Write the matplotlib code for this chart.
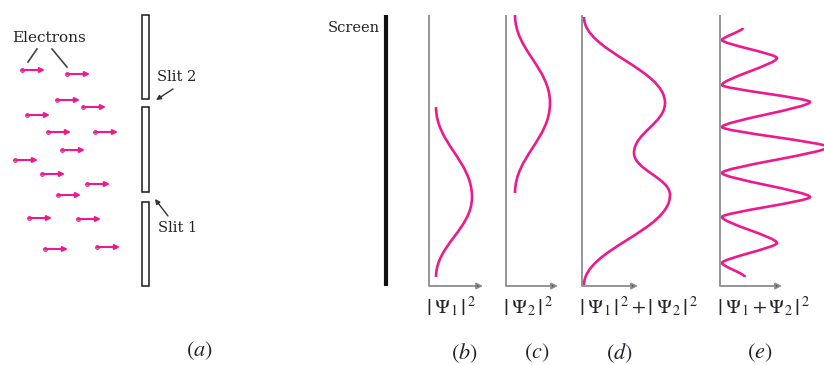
import matplotlib
matplotlib.use('Agg')
import matplotlib.pyplot as plt
from matplotlib.path import Path
from matplotlib.patches import PathPatch, Rectangle

plt.rcParams['font.family'] = ['DejaVu Serif']
plt.rcParams['mathtext.fontset'] = 'stix'

PINK = '#ec1a8c'
TEXT = '#23232f'
AXGRAY = '#8c8c8c'

# electrons in panel (a): tail x and height (pixel units of the drawing)
elec_x = [22, 67, 57, 83, 27, 48, 95, 62, 15, 42, 87, 58, 29, 78, 45, 97]
elec_y = [70, 74, 100, 107, 115, 132, 132, 150, 160, 174, 184, 195, 218, 219, 249, 247]

# slit wall segments (top, bottom)
wall_top = [15, 107, 202]
wall_bot = [99, 192, 286]

# probability curves: key points (height on screen, intensity)
b_height = [179, 89, 9]
b_int = [7, 43, 7]
c_height = [271, 183, 93]
c_int = [9, 44, 9]
d_height = [269, 183, 133, 91, 1]
d_int = [2, 83, 52, 88, 2]
e_height = [258, 246, 228, 201, 184, 159, 139, 113, 89, 69, 43, 23, 9]
e_int = [23, 2, 57, 2, 90, 2, 108, 2, 90, 2, 57, 2, 25]

axis_labels = [r'$\left|\;\Psi_1\,\right|^{\,2}$', r'$\left|\;\Psi_2\,\right|^{\,2}$',
               r'$\left|\;\Psi_1\,\right|^{\,2}+\left|\;\Psi_2\,\right|^{\,2}$',
               r'$\left|\;\Psi_1+\Psi_2\,\right|^{\,2}$']
panel_tags = ['a', 'b', 'c', 'd', 'e']

W, H = 824, 365
fig = plt.figure(figsize=(W / 100, H / 100), dpi=100)

# overlay in pixel units for panel (a), screen and captions
ax0 = fig.add_axes([0, 0, 1, 1])
ax0.set_xlim(0, W)
ax0.set_ylim(H, 0)
ax0.axis('off')

for t, b in zip(wall_top, wall_bot):
    ax0.add_patch(Rectangle((142, t), 7, b - t, facecolor='white',
                            edgecolor='#1a1a1a', lw=1.1))

for x, y in zip(elec_x, elec_y):
    ax0.annotate('', xy=(x + 23, y), xytext=(x, y),
                 arrowprops=dict(arrowstyle='-|>', color=PINK, lw=1.5,
                                 mutation_scale=7, shrinkA=0, shrinkB=0))
    ax0.plot(x, y, 'o', ms=2.8, mfc='#f27ab6', mec=PINK, mew=0.6)

ax0.text(12, 38, 'Electrons', fontsize=11, color=TEXT, va='center')
ax0.plot([37, 28], [49, 62], color='#444444', lw=1.2)
ax0.plot([52, 67], [49, 67], color='#444444', lw=1.2)

ax0.text(157, 77, 'Slit 2', fontsize=10.5, color=TEXT, va='center')
ax0.annotate('', xy=(156, 100), xytext=(173, 89),
             arrowprops=dict(arrowstyle='-|>', color='#333333', lw=1.0,
                             mutation_scale=7, shrinkA=0, shrinkB=0))
ax0.text(158, 228, 'Slit 1', fontsize=10.5, color=TEXT, va='center')
ax0.annotate('', xy=(155, 199), xytext=(168, 216),
             arrowprops=dict(arrowstyle='-|>', color='#333333', lw=1.0,
                             mutation_scale=7, shrinkA=0, shrinkB=0))

# screen
ax0.plot([386, 386], [15, 286], color='#111111', lw=3, solid_capstyle='butt')
ax0.text(380, 28, 'Screen', fontsize=10.5, color=TEXT, ha='right', va='center')


def smooth_path(xs, ys, k=0.4):
    verts = [(xs[0], ys[0])]
    codes = [Path.MOVETO]
    for i in range(len(xs) - 1):
        dy = ys[i + 1] - ys[i]
        verts += [(xs[i], ys[i] + k * dy), (xs[i + 1], ys[i + 1] - k * dy),
                  (xs[i + 1], ys[i + 1])]
        codes += [Path.CURVE4] * 3
    return Path(verts, codes)


corner_x = [429, 506, 582, 720]
arrow_len = [54, 52, 56, 62]
panel_w = [75, 75, 110, 104]
bend = [0.4, 0.4, 0.4, 0.22]
curves = [(b_int, b_height), (c_int, c_height), (d_int, d_height), (e_int, e_height)]
top, bottom = 15, 286
ph = bottom - top

for cx, al, pw, k, (xi, yh), lab in zip(corner_x, arrow_len, panel_w, bend,
                                        curves, axis_labels):
    ax = fig.add_axes([cx / W, 1 - bottom / H, pw / W, ph / H])
    ax.set_xlim(0, pw)
    ax.set_ylim(0, ph)
    ax.axis('off')
    ax.patch.set_visible(False)
    ax.plot([0, 0], [0, ph], color=AXGRAY, lw=1.3, solid_capstyle='butt',
            clip_on=False)
    ax.annotate('', xy=(al, 0), xytext=(0, 0),
                arrowprops=dict(arrowstyle='-|>', color=AXGRAY, lw=1.3,
                                mutation_scale=9, shrinkA=0, shrinkB=0,
                                fc='#444444', ec=AXGRAY))
    ax.add_patch(PathPatch(smooth_path(xi, yh, k), facecolor='none',
                           edgecolor=PINK, lw=1.9))
    ax0.text(cx - 3, 307, lab, fontsize=14.5, color=TEXT, ha='left', va='center')

tag_x = [199, 464, 537, 619, 760]
tag_y = [351, 353, 353, 353, 353]
for tx, ty, tg in zip(tag_x, tag_y, panel_tags):
    ax0.text(tx, ty, '$(' + tg + ')$', fontsize=16, color=TEXT,
             ha='center', va='center')

fig.savefig('out.png', dpi=100)
